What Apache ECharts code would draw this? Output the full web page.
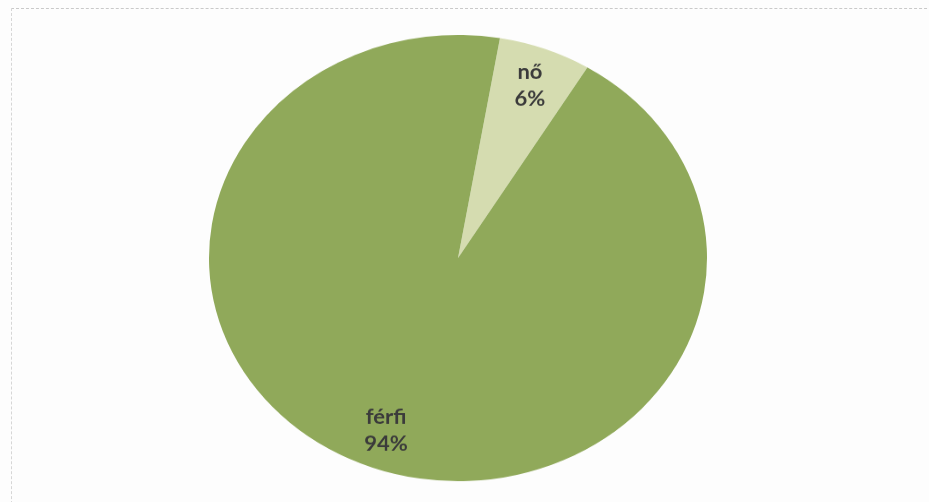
<!DOCTYPE html>
<html>
<head>
<meta charset="utf-8">
<script src="https://cdn.jsdelivr.net/npm/echarts@6/dist/echarts.min.js"></script>
<style>
  html, body { margin: 0; padding: 0; background: #fdfdfd; overflow: hidden; }
  #frame { position: absolute; left: 11px; top: 8px; width: 940px; height: 520px;
           border-top: 1px dashed #c9c9c9; border-left: 1px dashed #d6d6d6; }
  #chart { position: absolute; left: 0; top: 0; width: 929px; height: 560px;
           transform: scaleY(0.896); transform-origin: 0 0; }
</style>
</head>
<body>
<div id="frame"></div>
<div id="chart"></div>
<script>
const categories = ['nő', 'férfi'];
const values = [6, 94];
const colors = ['#d5dcb0', '#90a95a'];

const data = categories.map((c, i) => ({ name: c, value: values[i], itemStyle: { color: colors[i] } }));

const chart = echarts.init(document.getElementById('chart'), null, { renderer: 'canvas' });
chart.setOption({
  backgroundColor: 'transparent',
  animation: false,
  series: [
    {
      type: 'pie',
      center: [458, 288],
      radius: [0, 249],
      startAngle: 80.3,
      clockwise: true,
      label: { show: false },
      labelLine: { show: false },
      silent: true,
      data: data
    },
    {
      type: 'pie',
      center: [458, 288],
      radius: [156, 249],
      startAngle: 80.3,
      clockwise: true,
      silent: true,
      itemStyle: { color: 'rgba(0,0,0,0)' },
      label: {
        show: true,
        position: 'inside',
        formatter: '{b}\n{d}%',
        fontFamily: 'Lato',
        fontSize: 22,
        fontWeight: 'bold',
        lineHeight: 30,
        color: '#3b3b3b'
      },
      labelLine: { show: false },
      data: categories.map((c, i) => ({ name: c, value: values[i] }))
    }
  ]
});
</script>
</body>
</html>
